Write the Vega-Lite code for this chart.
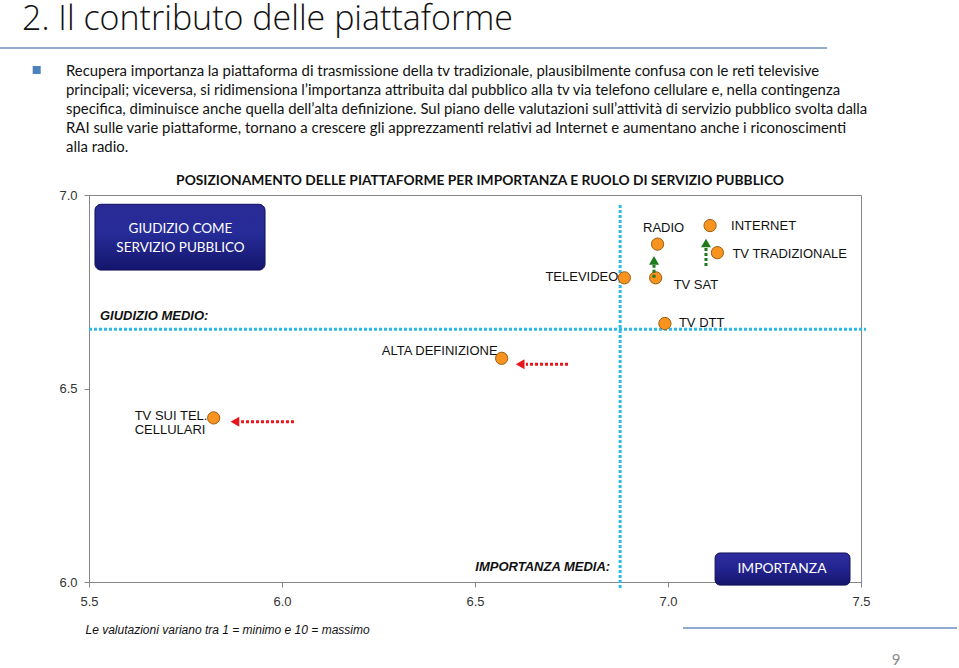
{
  "$schema": "https://vega.github.io/schema/vega-lite/v6.json",
  "width": 772,
  "height": 387,
  "autosize": {"type": "none"},
  "padding": {"left": 89, "top": 195, "right": 98, "bottom": 86},
  "background": "white",
  "title": {
    "text": "2. Il contributo delle piattaforme",
    "anchor": "start",
    "frame": "group",
    "font": "Open Sans",
    "fontWeight": 300,
    "fontSize": 34,
    "color": "#111111",
    "dx": -67,
    "offset": 10
  },
  "config": {
    "view": {"stroke": "#868686", "strokeWidth": 1},
    "axis": {"grid": false}
  },
  "datasets": {
    "piattaforme": [
      {"piattaforma": "TV SUI TEL.\nCELLULARI", "importanza": 5.823, "giudizio": 6.424},
      {"piattaforma": "ALTA DEFINIZIONE", "importanza": 6.569, "giudizio": 6.578},
      {"piattaforma": "TELEVIDEO", "importanza": 6.887, "giudizio": 6.786},
      {"piattaforma": "TV SAT", "importanza": 6.968, "giudizio": 6.786},
      {"piattaforma": "RADIO", "importanza": 6.973, "giudizio": 6.873},
      {"piattaforma": "INTERNET", "importanza": 7.109, "giudizio": 6.921},
      {"piattaforma": "TV TRADIZIONALE", "importanza": 7.128, "giudizio": 6.851},
      {"piattaforma": "TV DTT", "importanza": 6.992, "giudizio": 6.668}
    ],
    "frecce": [
      {"piattaforma": "TV SUI TEL.\nCELLULARI", "verso": "calo", "x_da": 6.031, "y_da": 6.414, "x_a": 5.894, "y_a": 6.414, "x_punta": 5.878, "y_punta": 6.414},
      {"piattaforma": "ALTA DEFINIZIONE", "verso": "calo", "x_da": 6.741, "y_da": 6.5625, "x_a": 6.632, "y_a": 6.5625, "x_punta": 6.617, "y_punta": 6.5625},
      {"piattaforma": "TV SAT", "verso": "aumento", "x_da": 6.9637, "y_da": 6.786, "x_a": 6.9637, "y_a": 6.819, "x_punta": 6.9637, "y_punta": 6.831},
      {"piattaforma": "TV TRADIZIONALE", "verso": "aumento", "x_da": 7.0984, "y_da": 6.8165, "x_a": 7.0984, "y_a": 6.863, "x_punta": 7.0984, "y_punta": 6.876}
    ],
    "medie": [
      {"importanza_media": 6.876, "giudizio_medio": 6.653}
    ]
  },
  "layer": [
    {
      "data": {"name": "piattaforme"},
      "mark": {"type": "point", "shape": "circle", "filled": true, "size": 150, "fill": "#F7931E", "stroke": "#9c5f12", "strokeWidth": 1, "opacity": 0},
      "encoding": {
        "x": {
          "field": "importanza", "type": "quantitative",
          "scale": {"domain": [5.5, 7.5], "nice": false, "zero": false},
          "axis": {
            "values": [5.5, 6, 6.5, 7, 7.5], "format": ".1f", "labelFlush": false,
            "labelFont": "Liberation Sans", "labelFontSize": 13, "labelColor": "#333333", "labelPadding": 8,
            "tickSize": 5, "tickColor": "#868686", "domainColor": "#868686", "grid": false,
            "title": "Le valutazioni variano tra 1 = minimo e 10 = massimo",
            "titleFont": "Liberation Sans", "titleFontSize": 12, "titleFontStyle": "italic", "titleFontWeight": "normal",
            "titleColor": "#111111", "titleAnchor": "start", "titleAlign": "left", "titleBaseline": "middle",
            "titleX": -4, "titleY": 47
          }
        },
        "y": {
          "field": "giudizio", "type": "quantitative",
          "scale": {"domain": [6, 7], "nice": false, "zero": false},
          "axis": {
            "values": [6, 6.5, 7], "format": ".1f", "labelFlush": false,
            "labelFont": "Liberation Sans", "labelFontSize": 13, "labelColor": "#333333", "labelPadding": 7,
            "tickSize": 5, "tickColor": "#868686", "domainColor": "#868686", "grid": false, "title": null
          }
        }
      }
    },
    {
      "data": {"name": "medie"},
      "mark": {"type": "rule", "color": "#2fbbe8", "strokeWidth": 3, "strokeDash": [3, 2]},
      "encoding": {
        "y": {"field": "giudizio_medio", "type": "quantitative"},
        "x": {"datum": 5.5, "type": "quantitative"},
        "x2": {"datum": 7.513}
      }
    },
    {
      "data": {"name": "medie"},
      "mark": {"type": "rule", "color": "#2fbbe8", "strokeWidth": 3, "strokeDash": [3, 2]},
      "encoding": {
        "x": {"field": "importanza_media", "type": "quantitative"},
        "y": {"datum": 6.974, "type": "quantitative"},
        "y2": {"datum": 5.984}
      }
    },
    {
      "data": {"name": "medie"},
      "mark": {"type": "text", "text": "GIUDIZIO MEDIO:", "align": "left", "baseline": "middle", "dx": 11, "dy": -13, "font": "Liberation Sans", "fontSize": 13, "fontWeight": "bold", "fontStyle": "italic", "color": "#111111"},
      "encoding": {
        "y": {"field": "giudizio_medio", "type": "quantitative"},
        "x": {"datum": 5.5, "type": "quantitative"}
      }
    },
    {
      "data": {"name": "medie"},
      "mark": {"type": "text", "text": "IMPORTANZA MEDIA:", "align": "right", "baseline": "middle", "dx": -10, "dy": -15, "font": "Liberation Sans", "fontSize": 13, "fontWeight": "bold", "fontStyle": "italic", "color": "#111111"},
      "encoding": {
        "x": {"field": "importanza_media", "type": "quantitative"},
        "y": {"datum": 6.0, "type": "quantitative"}
      }
    },
    {
      "data": {"values": [{"riquadro": "GIUDIZIO COME SERVIZIO PUBBLICO"}]},
      "mark": {"type": "rect", "cornerRadius": 6, "stroke": "#10105a", "strokeWidth": 1,
        "fill": {"gradient": "linear", "x1": 0, "y1": 0, "x2": 0, "y2": 1,
          "stops": [{"offset": 0, "color": "#2a2a96"}, {"offset": 0.45, "color": "#262c98"}, {"offset": 1, "color": "#15156c"}]}},
      "encoding": {
        "x": {"datum": 5.5155, "type": "quantitative"},
        "x2": {"datum": 5.956},
        "y": {"datum": 6.976, "type": "quantitative"},
        "y2": {"datum": 6.806}
      }
    },
    {
      "data": {"values": [{"riquadro": "GIUDIZIO COME SERVIZIO PUBBLICO"}]},
      "mark": {"type": "text", "text": ["GIUDIZIO COME", "SERVIZIO PUBBLICO"], "align": "center", "baseline": "middle", "lineHeight": 19, "font": "Lato", "fontSize": 13.5, "color": "white"},
      "encoding": {
        "x": {"datum": 5.737, "type": "quantitative"},
        "y": {"datum": 6.912, "type": "quantitative"}
      }
    },
    {
      "data": {"values": [{"riquadro": "IMPORTANZA"}]},
      "mark": {"type": "rect", "cornerRadius": 5, "stroke": "#10105a", "strokeWidth": 1,
        "fill": {"gradient": "linear", "x1": 0, "y1": 0, "x2": 0, "y2": 1,
          "stops": [{"offset": 0, "color": "#2e2ea0"}, {"offset": 0.5, "color": "#232390"}, {"offset": 1, "color": "#15156c"}]}},
      "encoding": {
        "x": {"datum": 7.122, "type": "quantitative"},
        "x2": {"datum": 7.4715},
        "y": {"datum": 6.075, "type": "quantitative"},
        "y2": {"datum": 5.992}
      }
    },
    {
      "data": {"values": [{"riquadro": "IMPORTANZA"}]},
      "mark": {"type": "text", "text": "IMPORTANZA", "align": "center", "baseline": "middle", "font": "Lato", "fontSize": 13.8, "color": "white"},
      "encoding": {
        "x": {"datum": 7.2953, "type": "quantitative"},
        "y": {"datum": 6.0336, "type": "quantitative"}
      }
    },
    {
      "data": {"values": [{"titolo": "POSIZIONAMENTO DELLE PIATTAFORME PER IMPORTANZA E RUOLO DI SERVIZIO PUBBLICO"}]},
      "mark": {"type": "text", "align": "center", "baseline": "middle", "font": "Lato", "fontSize": 13.8, "fontWeight": "bold", "color": "#111111"},
      "encoding": {
        "text": {"field": "titolo"},
        "x": {"datum": 6.513, "type": "quantitative"},
        "y": {"datum": 7.036, "type": "quantitative"}
      }
    },
    {
      "data": {"name": "piattaforme"},
      "transform": [{"filter": "datum.piattaforma == 'TV SUI TEL.\\nCELLULARI'"}],
      "mark": {"type": "text", "align": "left", "baseline": "middle", "lineBreak": "\n", "lineHeight": 14.5, "dx": -79, "dy": -2, "font": "Liberation Sans", "fontSize": 13, "color": "#111111"},
      "encoding": {
        "text": {"field": "piattaforma"},
        "x": {"field": "importanza", "type": "quantitative"},
        "y": {"field": "giudizio", "type": "quantitative"}
      }
    },
    {
      "data": {"name": "piattaforme"},
      "transform": [{"filter": "datum.piattaforma == 'ALTA DEFINIZIONE'"}],
      "mark": {"type": "text", "align": "right", "baseline": "middle", "dx": -4, "dy": -7, "font": "Liberation Sans", "fontSize": 13, "color": "#111111"},
      "encoding": {
        "text": {"field": "piattaforma"},
        "x": {"field": "importanza", "type": "quantitative"},
        "y": {"field": "giudizio", "type": "quantitative"}
      }
    },
    {
      "data": {"name": "piattaforme"},
      "transform": [{"filter": "datum.piattaforma == 'TELEVIDEO'"}],
      "mark": {"type": "text", "align": "right", "baseline": "middle", "dx": -6, "dy": -1, "font": "Liberation Sans", "fontSize": 13, "color": "#111111"},
      "encoding": {
        "text": {"field": "piattaforma"},
        "x": {"field": "importanza", "type": "quantitative"},
        "y": {"field": "giudizio", "type": "quantitative"}
      }
    },
    {
      "data": {"name": "piattaforme"},
      "transform": [{"filter": "datum.piattaforma == 'RADIO'"}],
      "mark": {"type": "text", "align": "center", "baseline": "middle", "dx": 6, "dy": -16, "font": "Liberation Sans", "fontSize": 13, "color": "#111111"},
      "encoding": {
        "text": {"field": "piattaforma"},
        "x": {"field": "importanza", "type": "quantitative"},
        "y": {"field": "giudizio", "type": "quantitative"}
      }
    },
    {
      "data": {"name": "piattaforme"},
      "transform": [{"filter": "datum.piattaforma == 'INTERNET'"}],
      "mark": {"type": "text", "align": "left", "baseline": "middle", "dx": 21, "dy": 0, "font": "Liberation Sans", "fontSize": 13, "color": "#111111"},
      "encoding": {
        "text": {"field": "piattaforma"},
        "x": {"field": "importanza", "type": "quantitative"},
        "y": {"field": "giudizio", "type": "quantitative"}
      }
    },
    {
      "data": {"name": "piattaforme"},
      "transform": [{"filter": "datum.piattaforma == 'TV TRADIZIONALE'"}],
      "mark": {"type": "text", "align": "left", "baseline": "middle", "dx": 15, "dy": 1, "font": "Liberation Sans", "fontSize": 13, "color": "#111111"},
      "encoding": {
        "text": {"field": "piattaforma"},
        "x": {"field": "importanza", "type": "quantitative"},
        "y": {"field": "giudizio", "type": "quantitative"}
      }
    },
    {
      "data": {"name": "piattaforme"},
      "transform": [{"filter": "datum.piattaforma == 'TV SAT'"}],
      "mark": {"type": "text", "align": "left", "baseline": "middle", "dx": 18, "dy": 7, "font": "Liberation Sans", "fontSize": 13, "color": "#111111"},
      "encoding": {
        "text": {"field": "piattaforma"},
        "x": {"field": "importanza", "type": "quantitative"},
        "y": {"field": "giudizio", "type": "quantitative"}
      }
    },
    {
      "data": {"name": "piattaforme"},
      "transform": [{"filter": "datum.piattaforma == 'TV DTT'"}],
      "mark": {"type": "text", "align": "left", "baseline": "middle", "dx": 14, "dy": 0, "font": "Liberation Sans", "fontSize": 13, "color": "#111111"},
      "encoding": {
        "text": {"field": "piattaforma"},
        "x": {"field": "importanza", "type": "quantitative"},
        "y": {"field": "giudizio", "type": "quantitative"}
      }
    },
    {
      "data": {"name": "piattaforme"},
      "mark": {"type": "point", "shape": "circle", "filled": true, "size": 150, "fill": "#F7931E", "stroke": "#9c5f12", "strokeWidth": 1, "opacity": 1},
      "encoding": {
        "x": {"field": "importanza", "type": "quantitative"},
        "y": {"field": "giudizio", "type": "quantitative"}
      }
    },
    {
      "data": {"name": "frecce"},
      "mark": {"type": "rule", "strokeWidth": 3, "strokeDash": [3, 2]},
      "encoding": {
        "x": {"field": "x_da", "type": "quantitative"},
        "x2": {"field": "x_a"},
        "y": {"field": "y_da", "type": "quantitative"},
        "y2": {"field": "y_a"},
        "color": {"field": "verso", "type": "nominal", "scale": {"domain": ["calo", "aumento"], "range": ["#e8161b", "#1d7a1d"]}, "legend": null}
      }
    },
    {
      "data": {"name": "frecce"},
      "mark": {"type": "point", "filled": true, "size": 100, "opacity": 1},
      "encoding": {
        "x": {"field": "x_punta", "type": "quantitative"},
        "y": {"field": "y_punta", "type": "quantitative"},
        "shape": {"field": "verso", "type": "nominal", "scale": {"domain": ["calo", "aumento"], "range": ["triangle-left", "triangle-up"]}, "legend": null},
        "color": {"field": "verso", "type": "nominal", "scale": {"domain": ["calo", "aumento"], "range": ["#e8161b", "#1d7a1d"]}, "legend": null}
      }
    },
    {
      "data": {"values": [{"elemento": "linea titolo"}]},
      "mark": {"type": "rule", "color": "#6d8fc0", "strokeWidth": 1.5},
      "encoding": {
        "x": {"datum": 5.2694, "type": "quantitative"},
        "x2": {"datum": 7.4119},
        "y": {"datum": 7.3798, "type": "quantitative"}
      }
    },
    {
      "data": {"values": [{"elemento": "punto elenco"}]},
      "mark": {"type": "point", "shape": "square", "filled": true, "size": 64, "color": "#4f81bd", "opacity": 1},
      "encoding": {
        "x": {"datum": 5.3645, "type": "quantitative"},
        "y": {"datum": 7.323, "type": "quantitative"}
      }
    },
    {
      "data": {"values": [{"testo": [
        "Recupera importanza la piattaforma di trasmissione della tv tradizionale, plausibilmente confusa con le reti televisive",
        "principali; viceversa, si ridimensiona l’importanza attribuita dal pubblico alla tv via telefono cellulare e, nella contingenza",
        "specifica, diminuisce anche quella dell’alta definizione. Sul piano delle valutazioni sull’attività di servizio pubblico svolta dalla",
        "RAI sulle varie piattaforme, tornano a crescere gli apprezzamenti relativi ad Internet e aumentano anche i riconoscimenti",
        "alla radio."
      ]}]},
      "mark": {"type": "text", "align": "left", "baseline": "top", "lineHeight": 19, "font": "Lato", "fontSize": 14.9, "color": "#111111"},
      "encoding": {
        "text": {"field": "testo"},
        "x": {"datum": 5.4404, "type": "quantitative"},
        "y": {"datum": 7.3375, "type": "quantitative"}
      }
    },
    {
      "data": {"values": [{"elemento": "linea pie"}]},
      "mark": {"type": "rule", "color": "#6d8fc0", "strokeWidth": 1.5},
      "encoding": {
        "x": {"datum": 7.0389, "type": "quantitative"},
        "x2": {"datum": 7.7487},
        "y": {"datum": 5.8811, "type": "quantitative"}
      }
    },
    {
      "data": {"values": [{"pagina": "9"}]},
      "mark": {"type": "text", "align": "center", "baseline": "middle", "font": "Lato", "fontSize": 15, "color": "#8c8c8c"},
      "encoding": {
        "text": {"field": "pagina"},
        "x": {"datum": 7.5907, "type": "quantitative"},
        "y": {"datum": 5.7984, "type": "quantitative"}
      }
    }
  ]
}
